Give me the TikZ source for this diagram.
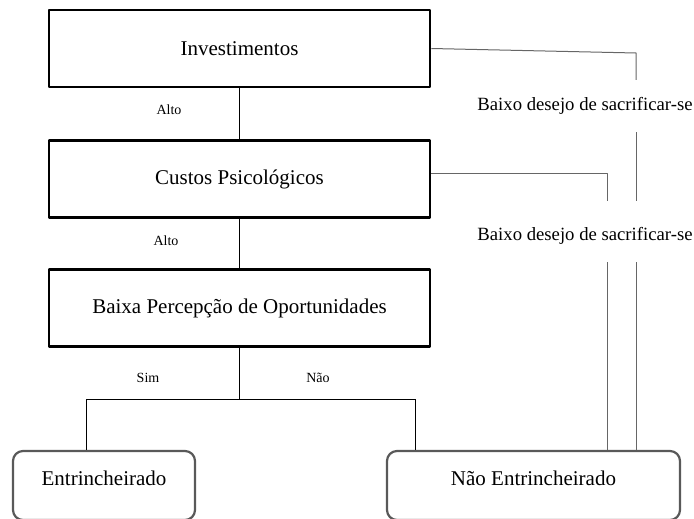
\documentclass[tikz,border=0pt]{standalone}
\usepackage{fontspec}
\setmainfont{Liberation Serif}
\usetikzlibrary{positioning}
\begin{document}
\begin{tikzpicture}[x=1pt,y=-1pt,line join=round,
		caixa/.style={draw,line width=2.6pt,minimum width=381pt,minimum height=77pt,inner sep=0pt,font=\fontsize{21}{25}\selectfont},
		fim/.style={draw=black!65,line width=2.2pt,rounded corners=10pt,minimum height=69pt,inner sep=0pt,text depth=14pt,font=\fontsize{21}{25}\selectfont},
		liga/.style={line width=0.9pt},
		lado/.style={line width=1pt,draw=black!60},
		rot/.style={font=\fontsize{14}{16}\selectfont},
		desejo/.style={font=\fontsize{18.7}{22}\selectfont}]
	\useasboundingbox (0,0) rectangle (694,519);
	
	% caixas
	\node[caixa] (inv) at (239.5,48.5) {Investimentos};
	\node[caixa] (cus) at (239.5,179) {Custos Psicológicos};
	\node[caixa] (bai) at (239.5,308) {Baixa Percepção de Oportunidades};
	\node[fim,minimum width=182pt] (ent) at (104,485.5) {Entrincheirado};
	\node[fim,minimum width=293pt] (nent) at (533.5,485.5) {Não Entrincheirado};
	
	% rotulos
	\node[rot] (alto1) at (169,110) {Alto};
	\node[rot] (alto2) at (166,241) {Alto};
	\node[rot] (sim) at (148,378) {Sim};
	\node[rot] (nao) at (318,378) {Não};
	\node[desejo] (des1) at (585,106) {Baixo desejo de sacrificar-se};
	\node[desejo] (des2) at (585,236) {Baixo desejo de sacrificar-se};
	
	% ligacoes centrais
	\draw[liga] (inv) -- (cus);
	\draw[liga] (cus) -- (bai);
	\coordinate (j) at (239.5,399);
	\coordinate (je) at (86,399);
	\coordinate (jn) at (415,399);
	\draw[liga] (bai) -- (j);
	\draw[liga] (je) -- (jn);
	\draw[liga] (je) -- (je |- ent.north);
	\draw[liga] (jn) -- (jn |- nent.north);
	
	% ligacoes laterais
	\coordinate (r1) at (636,53);
	\coordinate (r2) at (607,173);
	\draw[lado] (inv.east) -- (r1) -- (636,80);
	\draw[lado] (636,132) -- (636,201);
	\draw[lado] (cus.east |- r2) -- (r2) -- (607,201);
	\foreach \x in {607,636}
		\draw[lado] (\x,262) -- ({\x},0 |- nent.north);
\end{tikzpicture}
\end{document}
